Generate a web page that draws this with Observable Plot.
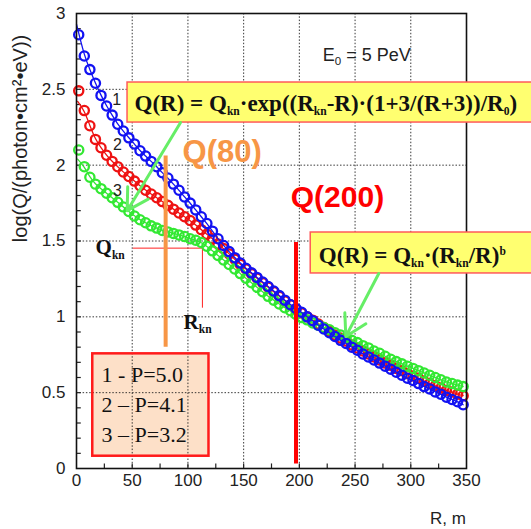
<!DOCTYPE html>
<html><head><meta charset="utf-8">
<script src="https://cdn.jsdelivr.net/npm/d3@7"></script>
<script src="https://cdn.jsdelivr.net/npm/@observablehq/plot@0.6"></script>
<style>body{margin:0;background:#fff}</style>
</head><body><div id="chart"></div>
<script>
// ---- data ----
const radii = [2,7,12,17,22,27,32,37,42,47,52,57,62,67,72,77,82,87,92,97,102,107,112,117,122,127,132,137,142,147,152,157,162,167,172,177,182,187,192,197,202,207,212,217,222,227,232,237,242,247,252,257,262,267,272,277,282,287,292,297,302,307,312,317,322,327,332,337,342,347];
const series1 = [2.86,2.72,2.63,2.54,2.46,2.39,2.33,2.27,2.225,2.18,2.14,2.095,2.06,2.025,1.99,1.95,1.915,1.875,1.835,1.79,1.75,1.705,1.66,1.615,1.565,1.515,1.47,1.43,1.39,1.355,1.32,1.29,1.26,1.23,1.20,1.17,1.14,1.11,1.08,1.055,1.03,1.00,0.975,0.945,0.92,0.895,0.87,0.845,0.825,0.80,0.78,0.755,0.735,0.715,0.695,0.675,0.655,0.635,0.615,0.595,0.58,0.56,0.54,0.525,0.505,0.49,0.47,0.455,0.44,0.42];
const series2 = [2.49,2.36,2.26,2.17,2.115,2.065,2.025,1.99,1.955,1.925,1.895,1.865,1.835,1.81,1.785,1.76,1.735,1.71,1.685,1.66,1.635,1.605,1.575,1.545,1.515,1.48,1.45,1.415,1.38,1.345,1.315,1.285,1.255,1.225,1.195,1.165,1.135,1.105,1.08,1.05,1.025,1.0,0.978,0.953,0.93,0.905,0.88,0.86,0.84,0.815,0.795,0.775,0.755,0.735,0.715,0.695,0.68,0.66,0.645,0.625,0.61,0.595,0.575,0.56,0.545,0.53,0.515,0.505,0.49,0.48];
const series3 = [2.10,1.99,1.92,1.875,1.845,1.815,1.785,1.755,1.725,1.695,1.665,1.64,1.62,1.60,1.585,1.57,1.56,1.55,1.54,1.53,1.515,1.505,1.49,1.465,1.435,1.405,1.375,1.345,1.315,1.285,1.255,1.225,1.195,1.165,1.135,1.11,1.085,1.06,1.04,1.015,0.995,0.98,0.96,0.945,0.93,0.915,0.895,0.88,0.865,0.845,0.83,0.81,0.795,0.775,0.76,0.74,0.72,0.705,0.69,0.675,0.66,0.645,0.63,0.615,0.60,0.585,0.57,0.56,0.55,0.54];
const seriesNames = ["1", "2", "3"];
const seriesColors = ["#1212f2", "#ee1212", "#33e833"];
const lineStartR = [0, 1, 1];
const lineStartV = [2.93, 2.42, 2.04];
const legendLines = ["1 - P=5.0", "2 \u2013 P=4.1", "3 \u2013 P=3.2"];
const xTicks = [0, 50, 100, 150, 200, 250, 300, 350];
const yTicks = [0, 0.5, 1, 1.5, 2, 2.5, 3];

// ---- build tables ----
const allSeries = [series1, series2, series3];
const pts = allSeries.map((vals, i) => vals.map((v, j) => ({s: seriesNames[i], R: radii[j], v})));
const fits = allSeries.map((vals, i) => [{R: lineStartR[i], v: lineStartV[i]}, ...vals.slice(1).map((v, j) => ({R: radii[j + 1], v}))]);

const xMinor = d3.range(25, 350, 25);
const yMinor = d3.range(1, 30).map(d => d / 10);

const serif = "'Liberation Serif','Times New Roman',serif";
const sans = "'Liberation Sans',Arial,sans-serif";
const orange = "#f79646";
const arrowGreen = "#66ee66";

const legendBox = [{x1: 14.6, x2: 118.9, y1: 0.081, y2: 0.756}];
const box1 = [{x1: 45.8, x2: 420, y1: 2.281, y2: 2.545}];
const box2 = [{x1: 210.2, x2: 420, y1: 1.286, y2: 1.556}];

const order = [1, 2, 0]; // red, green, blue
const seriesMarks = order.flatMap(i => [
  Plot.line(fits[i], {x: "R", y: "v", stroke: seriesColors[i], strokeWidth: 1.3, curve: "basis"}),
  Plot.dot(pts[i], {x: "R", y: "v", stroke: seriesColors[i], r: 4.6, strokeWidth: 2.3, fill: "none"})
]);

const plot = Plot.plot({
  width: 531, height: 529,
  marginLeft: 76, marginRight: 65, marginTop: 13, marginBottom: 61,
  x: {domain: [0, 350]},
  y: {domain: [0, 3]},
  style: {fontFamily: sans, fontSize: "17px", background: "#fff", color: "#222", overflow: "visible"},
  marks: [
    Plot.rect(legendBox, {x1: "x1", x2: "x2", y1: "y1", y2: "y2", fill: "#fde0c8"}),
    Plot.gridX(xTicks.slice(1, -1), {stroke: "#222", strokeOpacity: 0.9, strokeDasharray: "1.5,1.8", strokeWidth: 1}),
    Plot.gridY(yTicks.slice(1, -1), {stroke: "#222", strokeOpacity: 0.9, strokeDasharray: "1.5,1.8", strokeWidth: 1}),
    Plot.rect(legendBox, {x1: "x1", x2: "x2", y1: "y1", y2: "y2", fill: "none", stroke: "#ff1a1a", strokeWidth: 2.5}),
    Plot.ruleX(xMinor, {y1: 0, y2: 0.03, stroke: "#222", strokeWidth: 1.2}),
    Plot.ruleY(yMinor, {x1: 0, x2: 4.3, stroke: "#222", strokeWidth: 1.2}),
    Plot.axisX(xTicks, {tickSize: 0, tickPadding: 5, label: null, tickFormat: d => String(d)}),
    Plot.axisY(yTicks, {tickSize: 0, tickPadding: 11, label: null, tickFormat: d => String(d)}),
    // guide lines for knee
    Plot.ruleY([1.453], {x1: 51, x2: 113, stroke: "#ff2020", strokeWidth: 1}),
    Plot.ruleX([113], {y1: 1.057, y2: 1.453, stroke: "#ff2020", strokeWidth: 1}),
    ...seriesMarks,
    Plot.frame({stroke: "#111", strokeWidth: 1.6}),
    // vertical markers
    Plot.ruleX([80], {y1: 0.80, y2: 2.06, stroke: orange, strokeWidth: 4}),
    Plot.ruleX([197], {y1: 0.03, y2: 1.49, stroke: "#ff0000", strokeWidth: 4}),
    // formula boxes
    Plot.rect(box1, {x1: "x1", x2: "x2", y1: "y1", y2: "y2", fill: "#ffff70", stroke: "#ff5a5a", strokeWidth: 1.5}),
    Plot.rect(box2, {x1: "x1", x2: "x2", y1: "y1", y2: "y2", fill: "#ffff70", stroke: "#ff5a5a", strokeWidth: 1.5}),
    Plot.arrow([{x1: 93.4, y1: 2.281, x2: 45.5, y2: 1.70}], {x1: "x1", y1: "y1", x2: "x2", y2: "y2", stroke: arrowGreen, strokeWidth: 3, headLength: 12}),
    Plot.arrow([{x1: 271.3, y1: 1.286, x2: 241.7, y2: 0.87}], {x1: "x1", y1: "y1", x2: "x2", y2: "y2", stroke: arrowGreen, strokeWidth: 3, headLength: 12}),
    // texts
    Plot.text(["Q(R) = Q_{kn}\u00b7exp((R_{kn}-R)\u00b7(1+3/(R+3))/R_{0})"], {x: 52.1, y: 2.36, text: d => d, textAnchor: "start", lineAnchor: "bottom", fontFamily: serif, fontWeight: "bold", fontSize: 23, fill: "#111"}),
    Plot.text(["Q(R) = Q_{kn}\u00b7(R_{kn}/R)^{b}"], {x: 217.4, y: 1.358, text: d => d, textAnchor: "start", lineAnchor: "bottom", fontFamily: serif, fontWeight: "bold", fontSize: 23, fill: "#111"}),
    Plot.text(["Q(80)"], {x: 95.2, y: 2.024, text: d => d, textAnchor: "start", lineAnchor: "bottom", fontFamily: sans, fontWeight: "bold", fontSize: 31, fill: orange}),
    Plot.text(["Q(200)"], {x: 192.3, y: 1.721, text: d => d, textAnchor: "start", lineAnchor: "bottom", fontFamily: sans, fontWeight: "bold", fontSize: 30, fill: "#ff0000"}),
    Plot.text(["E_{0} = 5 PeV"], {x: 221, y: 2.69, text: d => d, textAnchor: "start", lineAnchor: "bottom", fontFamily: sans, fontSize: 18, fill: "#222"}),
    Plot.text(["Q_{kn}"], {x: 17.1, y: 1.411, text: d => d, textAnchor: "start", lineAnchor: "bottom", fontFamily: serif, fontWeight: "bold", fontSize: 21, fill: "#111"}),
    Plot.text(["R_{kn}"], {x: 96.1, y: 0.923, text: d => d, textAnchor: "start", lineAnchor: "bottom", fontFamily: serif, fontWeight: "bold", fontSize: 21, fill: "#111"}),
    Plot.text(seriesNames, {x: [36, 36.8, 36.8], y: [2.40, 2.097, 1.80], text: d => d, textAnchor: "middle", lineAnchor: "bottom", fontFamily: sans, fontSize: 16, fill: "#222"}),
    Plot.text(legendLines, {x: 22.5, y: [0.569, 0.371, 0.173], text: d => d, textAnchor: "start", lineAnchor: "bottom", fontFamily: serif, fontSize: 22, fill: "#111"}),
    Plot.text(["log(Q/(photon\u2022cm\u00b2\u2022eV))"], {x: -50.3, y: 2.176, text: d => d, rotate: -90, textAnchor: "middle", lineAnchor: "middle", fontFamily: sans, fontSize: 20, fill: "#222"}),
    Plot.text(["R, m"], {x: 349.5, y: -0.369, text: d => d, textAnchor: "end", lineAnchor: "bottom", fontFamily: sans, fontSize: 17, fill: "#222"})
  ]
});

// sub/superscript rendering
function richify(el) {
  const s = el.textContent;
  const fs = parseFloat(el.getAttribute("font-size") || getComputedStyle(el).fontSize) || 17;
  const parts = s.split(/([_^]\{[^}]*\})/).filter(p => p);
  el.textContent = "";
  let shift = 0;
  for (const p of parts) {
    const ts = document.createElementNS("http://www.w3.org/2000/svg", "tspan");
    let target = 0, txt = p, small = false;
    if (p.startsWith("_{")) { target = 0.28; txt = p.slice(2, -1); small = true; }
    else if (p.startsWith("^{")) { target = -0.42; txt = p.slice(2, -1); small = true; }
    const dy = (target - shift) * fs;
    if (dy) ts.setAttribute("dy", dy + "px");
    if (small) ts.setAttribute("font-size", (fs * 0.68) + "px");
    ts.textContent = txt;
    el.appendChild(ts);
    shift = target;
  }
}
d3.select(plot).selectAll("text").each(function () {
  if (/[_^]\{/.test(this.textContent) && this.children.length === 0) richify(this);
});
document.getElementById("chart").appendChild(plot);
</script>
</body></html>
